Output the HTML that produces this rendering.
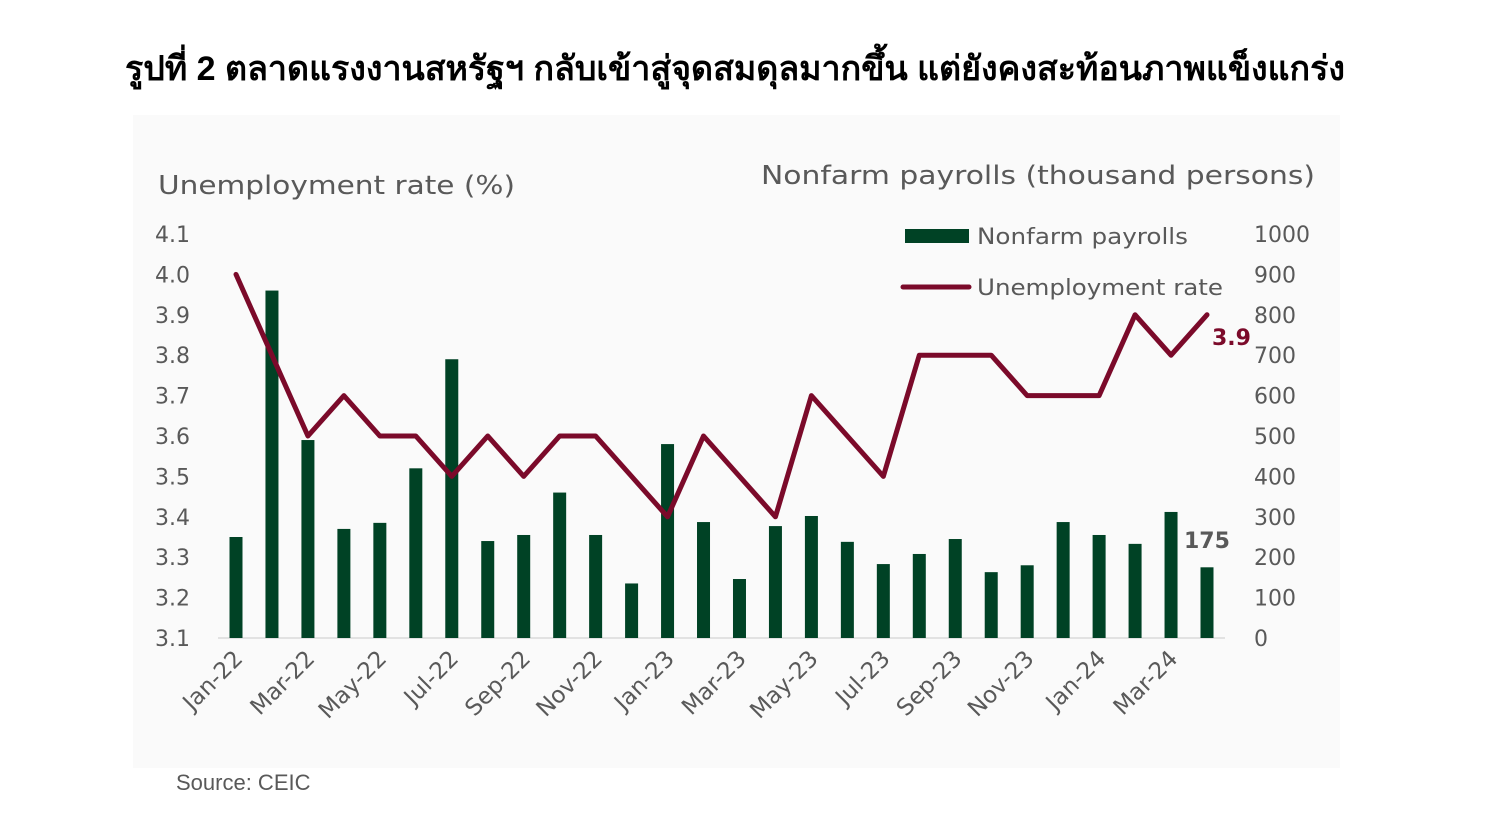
<!DOCTYPE html>
<html><head><meta charset="utf-8"><style>
body{margin:0;background:#fff;}
svg{display:block;font-family:"DejaVu Sans","Liberation Sans",sans-serif;}
</style></head><body>
<svg width="1487" height="817" viewBox="0 0 1487 817">
<text x="125" y="80" font-size="34" font-weight="bold" fill="#000" textLength="1220" lengthAdjust="spacingAndGlyphs" style="font-family:'Liberation Sans',sans-serif">รูปที่ 2 ตลาดแรงงานสหรัฐฯ กลับเข้าสู่จุดสมดุลมากขึ้น แต่ยังคงสะท้อนภาพแข็งแกร่ง</text>
<rect x="133" y="115" width="1207" height="653" fill="#fafafa"/>
<text x="158" y="194" font-size="26" fill="#595959" textLength="357" lengthAdjust="spacingAndGlyphs">Unemployment rate (%)</text>
<text x="761" y="184" font-size="26" fill="#595959" textLength="554" lengthAdjust="spacingAndGlyphs">Nonfarm payrolls (thousand persons)</text>
<g id="axes"></g>
<g id="bars"></g>
<g id="line"></g>
<rect x="905" y="229" width="64" height="14" fill="#004225"/>
<text x="977" y="244" font-size="22" fill="#595959" textLength="211" lengthAdjust="spacingAndGlyphs">Nonfarm payrolls</text>
<line x1="903" y1="287" x2="969" y2="287" stroke="#7b0a2a" stroke-width="5" stroke-linecap="round"/>
<text x="977" y="295" font-size="22" fill="#595959" textLength="246" lengthAdjust="spacingAndGlyphs">Unemployment rate</text>
<text x="1212" y="345" font-size="22" font-weight="bold" fill="#7b0a2a">3.9</text>
<text x="1184" y="548" font-size="22" font-weight="bold" fill="#595959">175</text>
<text x="176" y="790" font-size="22" fill="#595959" style="font-family:'Liberation Sans',sans-serif">Source:  CEIC</text>
</svg>
<script>
const months = ["Jan-22","Feb-22","Mar-22","Apr-22","May-22","Jun-22","Jul-22","Aug-22","Sep-22","Oct-22","Nov-22","Dec-22","Jan-23","Feb-23","Mar-23","Apr-23","May-23","Jun-23","Jul-23","Aug-23","Sep-23","Oct-23","Nov-23","Dec-23","Jan-24","Feb-24","Mar-24","Apr-24"];
const payrolls = [250,860,490,270,285,420,690,240,255,360,255,135,480,287,146,277,302,238,183,208,245,163,180,287,255,233,312,175];
const unemployment = [4.0,3.8,3.6,3.7,3.6,3.6,3.5,3.6,3.5,3.6,3.6,3.5,3.4,3.6,3.5,3.4,3.7,3.6,3.5,3.8,3.8,3.8,3.7,3.7,3.7,3.9,3.8,3.9];
const leftTicks = ["3.1","3.2","3.3","3.4","3.5","3.6","3.7","3.8","3.9","4.0","4.1"];
const rightTicks = ["0","100","200","300","400","500","600","700","800","900","1000"];
const NS="http://www.w3.org/2000/svg";
const x0=236, dx=(1207-236)/27, yBase=638, yTop=234;
const xs=i=>x0+i*dx;
const yL=v=>yBase-(v-3.1)/1.0*(yBase-yTop);
const yR=v=>yBase-v/1000*(yBase-yTop);
function mk(tag,attrs,parent){const e=document.createElementNS(NS,tag);for(const k in attrs)e.setAttribute(k,attrs[k]);parent.appendChild(e);return e;}
const axes=document.getElementById('axes'),bars=document.getElementById('bars'),line=document.getElementById('line');
leftTicks.forEach(t=>{const e=mk('text',{x:190,y:yL(+t)+8,'font-size':22,fill:'#595959','text-anchor':'end'},axes);e.textContent=t;

});
rightTicks.forEach(t=>{const e=mk('text',{x:1254,y:yR(+t)+8,'font-size':22,fill:'#595959'},axes);e.textContent=t;

});
const ax=mk('line',{x1:218,y1:yBase,x2:1225,y2:yBase,stroke:'#d9d9d9','stroke-width':1.5},axes);


months.forEach((m,i)=>{
 const b=mk('rect',{x:xs(i)-6.5,y:yR(payrolls[i]),width:13,height:yBase-yR(payrolls[i]),fill:'#004225'},bars);
 
 
 if(i%2===0){const t=mk('text',{x:xs(i)+8,y:660,'font-size':23,fill:'#595959','text-anchor':'end',transform:`rotate(-45 ${xs(i)+8} 660)`},axes);t.textContent=m;
 
 }
});
const p=mk('polyline',{points:unemployment.map((v,i)=>xs(i)+','+yL(v)).join(' '),fill:'none',stroke:'#7b0a2a','stroke-width':5,'stroke-linejoin':'round','stroke-linecap':'round'},line);


</script>
</body></html>
